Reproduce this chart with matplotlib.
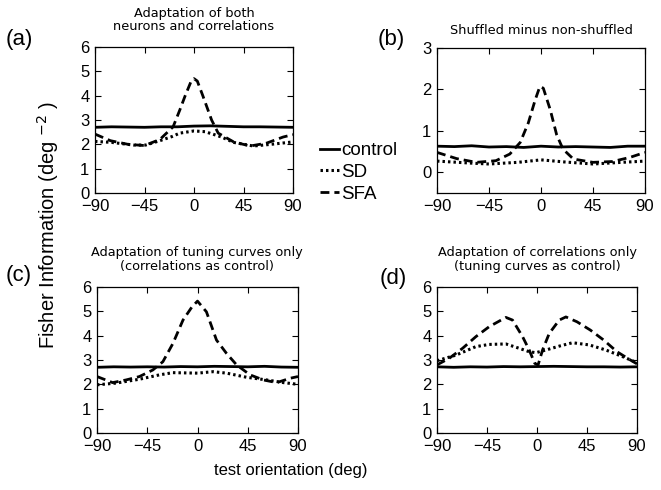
import matplotlib
matplotlib.use("Agg")
import matplotlib.pyplot as plt

# ---- data ----
ctrl_x = [-90, -75, -60, -45, -30, -15, 0, 15, 30, 45, 60, 75, 90]
a_ctrl = [2.70, 2.72, 2.71, 2.70, 2.72, 2.72, 2.75, 2.76, 2.74, 2.72, 2.72, 2.71, 2.70]
b_ctrl = [0.63, 0.62, 0.64, 0.61, 0.62, 0.60, 0.63, 0.61, 0.62, 0.61, 0.60, 0.63, 0.63]
c_ctrl = [2.70, 2.72, 2.71, 2.72, 2.71, 2.73, 2.72, 2.74, 2.73, 2.72, 2.74, 2.71, 2.70]
d_ctrl = [2.72, 2.70, 2.72, 2.71, 2.73, 2.72, 2.73, 2.74, 2.73, 2.72, 2.72, 2.71, 2.72]

a_sd_x = [-90, -75, -55, -44, -31, -20, -13, 0, 10, 17, 25, 36, 54, 70, 90]
a_sd = [2.12, 2.08, 1.97, 1.97, 2.15, 2.32, 2.46, 2.55, 2.52, 2.42, 2.30, 2.08, 1.93, 2.0, 2.1]
a_sfa_x = [-90, -76, -60, -45, -31, -19, -13, -8, -3, 0, 3, 8, 16, 22, 36, 51, 66, 81, 90]
a_sfa = [2.42, 2.15, 2.0, 1.95, 2.2, 2.72, 3.4, 4.0, 4.55, 4.7, 4.6, 4.0, 3.0, 2.46, 2.1, 1.93, 2.05, 2.3, 2.4]

b_sd_x = [-90, -60, -45, -20, 0, 20, 45, 70, 90]
b_sd = [0.27, 0.22, 0.20, 0.24, 0.30, 0.25, 0.20, 0.24, 0.27]
b_sfa_x = [-90, -73, -56, -39, -27, -18, -11, -5, -1, 2, 8, 13.5, 19, 28, 45, 62, 77, 90]
b_sfa = [0.48, 0.33, 0.24, 0.28, 0.44, 0.72, 1.19, 1.75, 2.07, 2.03, 1.51, 0.91, 0.56, 0.32, 0.24, 0.26, 0.36, 0.48]

c_sd_x = [-90, -73, -52, -34, -22, 0, 14, 26, 44, 62, 77, 90]
c_sd = [1.98, 2.05, 2.21, 2.39, 2.48, 2.46, 2.52, 2.46, 2.29, 2.18, 2.07, 2.0]
c_sfa_x = [-90, -76, -64, -52, -40, -31, -22, -13, -5, 0, 8, 17, 26, 35, 47, 59, 71, 83, 90]
c_sfa = [2.32, 2.07, 2.18, 2.32, 2.59, 2.93, 3.68, 4.64, 5.18, 5.42, 4.98, 3.82, 3.27, 2.8, 2.39, 2.18, 2.07, 2.25, 2.32]

d_sd_x = [-90, -73, -55, -43, -28, -16, -7, -1, 8, 20, 32, 47, 62, 77, 90]
d_sd = [2.97, 3.2, 3.55, 3.64, 3.66, 3.48, 3.34, 3.3, 3.41, 3.57, 3.71, 3.62, 3.41, 3.14, 2.89]
d_sfa_x = [-90, -79, -67, -55, -43, -28, -22, -13, -7, -2, 1, 5, 11, 20, 26, 36, 48, 60, 72, 84, 90]
d_sfa = [2.8, 3.07, 3.48, 3.96, 4.37, 4.75, 4.64, 3.96, 3.41, 2.86, 2.8, 3.41, 4.09, 4.64, 4.77, 4.57, 4.23, 3.82, 3.34, 3.0, 2.84]

xticks = [-90, -45, 0, 45, 90]
titles = ["Adaptation of both\nneurons and correlations",
          "Shuffled minus non-shuffled",
          "Adaptation of tuning curves only\n(correlations as control)",
          "Adaptation of correlations only\n(tuning curves as control)"]
panel_labels = ["(a)", "(b)", "(c)", "(d)"]
legend_labels = ["control", "SD", "SFA"]

W, H = 661, 490
fig = plt.figure(figsize=(W / 100, H / 100), dpi=100)

def rect(l, t, r, b):
    return [l / W, 1 - b / H, (r - l) / W, (b - t) / H]

axes_px = [(95, 47, 293, 193), (437, 48, 645, 193), (97, 287, 298, 433), (437, 287, 637, 433)]
data = [
    (ctrl_x, a_ctrl, a_sd_x, a_sd, a_sfa_x, a_sfa),
    (ctrl_x, b_ctrl, b_sd_x, b_sd, b_sfa_x, b_sfa),
    (ctrl_x, c_ctrl, c_sd_x, c_sd, c_sfa_x, c_sfa),
    (ctrl_x, d_ctrl, d_sd_x, d_sd, d_sfa_x, d_sfa),
]
title_pos = [(194, 20), (541, 30), (197, 259.5), (537, 259.5)]
label_pos = [(19, 39), (391, 39), (19, 276), (393, 278)]

tickfont = "Liberation Sans"
handles = None
for i, (px, d) in enumerate(zip(axes_px, data)):
    ax = fig.add_axes(rect(*px))
    cx, cy, sx, sy, fx, fy = d
    l1, = ax.plot(cx, cy, color="black", lw=2.0, ls="-")
    l2, = ax.plot(sx, sy, color="black", lw=2.2, ls=(0, (0.8, 1.0)))
    l3, = ax.plot(fx, fy, color="black", lw=2.0, ls=(0, (3.2, 1.8)))
    if handles is None:
        handles = [l1, l2, l3]
    ax.set_xlim(-90, 90)
    ax.set_xticks(xticks)
    ax.set_xticklabels(["\u221290", "\u221245", "0", "45", "90"])
    if i == 1:
        ax.set_ylim(-0.5, 3)
        ax.set_yticks([0, 1, 2, 3])
    else:
        ax.set_ylim(0, 6)
        ax.set_yticks(range(7))
    ax.tick_params(direction="in", length=4, width=0.8, top=True, right=True,
                   labelsize=12, colors="black")
    ax.tick_params(axis="x", pad=4)
    ax.tick_params(axis="y", pad=4)
    for lab in ax.get_xticklabels() + ax.get_yticklabels():
        lab.set_fontfamily(tickfont)
    for s in ax.spines.values():
        s.set_linewidth(0.9)
    tx, ty = title_pos[i]
    fig.text(tx / W, 1 - ty / H, titles[i], ha="center", va="center",
             fontsize=9.3, family="DejaVu Sans", linespacing=1.05)
    lx, ly = label_pos[i]
    fig.text(lx / W, 1 - ly / H, panel_labels[i], ha="center", va="center",
             fontsize=16, family=tickfont)

fig.legend(handles, legend_labels, loc="upper left",
           bbox_to_anchor=(320 / W, 1 - 142 / H), frameon=False,
           handlelength=1.0, handletextpad=0.15, labelspacing=0.25,
           borderpad=0, borderaxespad=0,
           prop={"family": tickfont, "size": 13.5})

fig.text(48 / W, 1 - 225 / H, "Fisher Information (deg $^{-2}$ )", rotation=90,
         ha="center", va="center", fontsize=14.5, family=tickfont)
fig.text(291 / W, 1 - 470 / H, "test orientation (deg)", ha="center", va="center",
         fontsize=12, family=tickfont)

fig.savefig("out.png", dpi=100)
